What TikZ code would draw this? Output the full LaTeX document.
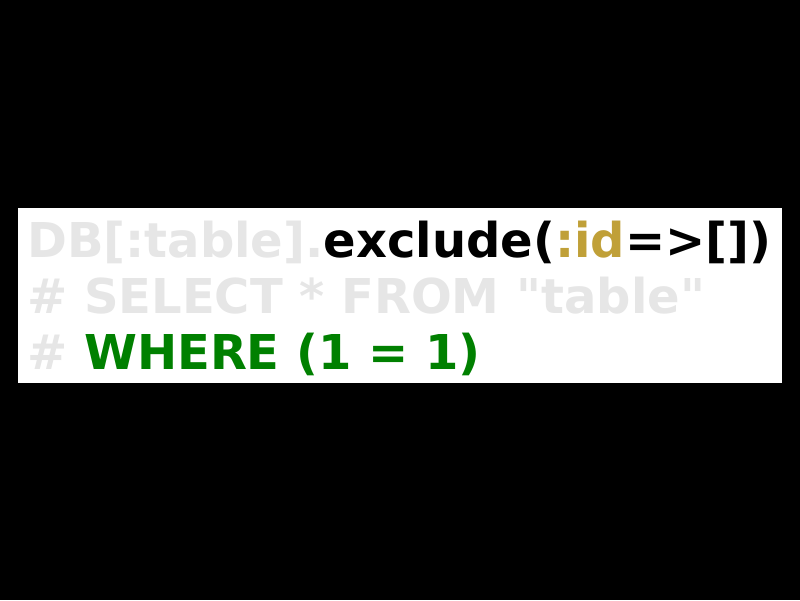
\documentclass[tikz,border=0pt]{standalone}
\usepackage{fontspec}
\setmainfont{DejaVu Sans}
\usepackage{tikz}
\usetikzlibrary{positioning}
\definecolor{codegray}{RGB}{230,230,230}
\definecolor{codegold}{RGB}{192,160,56}
\definecolor{codegreen}{RGB}{0,128,0}
\begin{document}
\begin{tikzpicture}[x=1pt,y=1pt,font=\fontsize{48}{56}\selectfont\bfseries]
            \def\mx{0} \def\max{800}
            \def\my{0} \def\may{600}
            \fill[black] (\mx,\my) rectangle (\max,\may);
            \useasboundingbox (\mx,\my) rectangle (\max,\may);
            \fill[white] (18,217) rectangle (782,392);
            %===========================================
            \node[anchor=base west,inner sep=0pt] (query) at (27,342)
                {\textcolor{codegray}{DB[:table].}exclude(\textcolor{codegold}{:id}=>[])};
            \node[anchor=base west,inner sep=0pt,text=codegray] (select) at (27,286)
                {\# SELECT * FROM \textquotedbl table\textquotedbl};
            \node[anchor=base west,inner sep=0pt] (where) at (27,230)
                {\textcolor{codegray}{\# }\textcolor{codegreen}{WHERE (1 = 1)}};
    \end{tikzpicture}
\end{document}
